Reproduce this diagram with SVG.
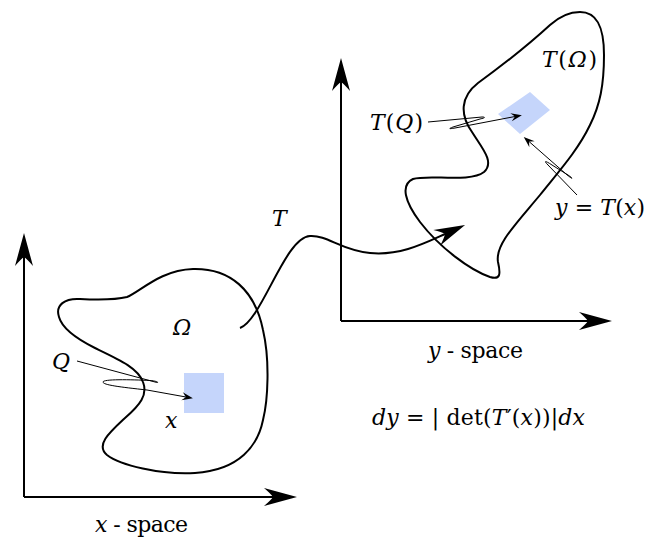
<svg xmlns="http://www.w3.org/2000/svg" width="647" height="538" viewBox="0 0 647 538">
<style>
.ln{fill:none;stroke:#000;stroke-width:2;stroke-linejoin:round}
.th{fill:none;stroke:#000;stroke-width:1}
.blue{fill:#c5d5fb;stroke:none}
text{font-family:'DejaVu Serif',serif;font-size:22px;fill:#000}
.i{font-style:italic}
</style>
<defs>
<marker id="big" markerUnits="userSpaceOnUse" markerWidth="40" markerHeight="24" viewBox="-36 -12 40 24" refX="-24" refY="0" orient="auto">
<path d="M0,0 L-33,-9 Q-26,-3 -24,0 Q-26,3 -33,9 Z" fill="#000"/>
</marker>
<marker id="tarr" markerUnits="userSpaceOnUse" markerWidth="36" markerHeight="24" viewBox="-34 -12 36 24" refX="-22" refY="0" orient="auto">
<path d="M0,0 L-31,-8.5 Q-24,-3 -22,0 Q-24,3 -31,8.5 Z" fill="#000"/>
</marker>
<marker id="sm" markerUnits="userSpaceOnUse" markerWidth="14" markerHeight="10" viewBox="-12 -5 14 10" refX="-7" refY="0" orient="auto">
<path d="M0,0 L-11,-4 Q-8,-1 -7,0 Q-8,1 -11,4 Z" fill="#000"/>
</marker>
</defs>

<g id="x-axes">
<path class="ln" d="M24,497 L24,257" marker-end="url(#big)"/>
<path class="ln" d="M24,497 L273,497" marker-end="url(#big)"/>
<text x="95" y="532" textLength="93"><tspan class="i">x</tspan> - space</text>
</g>

<g id="y-axes">
<path class="ln" d="M341,321 L341,82" marker-end="url(#big)"/>
<path class="ln" d="M341,321 L588,321" marker-end="url(#big)"/>
<text x="428" y="358" textLength="95"><tspan class="i">y</tspan> - space</text>
</g>

<g id="omega">
<rect class="blue" x="184" y="373" width="40" height="40"/>
<path class="ln" d="M59,317 C55,305 65,298 80,299 C100,300 115,300 127,297 C140,292 160,270 193,269 C230,268 255,290 263,330 C270,360 268,400 263,420 C258,445 240,470 195,473 C160,475 120,465 107,455 C95,445 110,432 125,418 C140,405 148,395 143,382 C138,368 120,360 95,348 C75,338 62,328 59,317 Z"/>
<text class="i" x="173" y="335">Ω</text>
<text class="i" x="52" y="369">Q</text>
<text class="i" x="165" y="428">x</text>
</g>

<g id="t-omega">
<polygon class="blue" points="530,92 550,110 520,134 498,114"/>
<path class="ln" d="M580,12 C596,12 604,25 604,55 C604,85 600,105 590,125 C578,150 560,170 540,195 C515,225 495,245 498,262 C501,275 500,280 490,277 C470,270 440,248 420,222 C405,202 400,185 413,179 C428,174 470,183 484,172 C495,162 482,148 472,132 C460,115 460,97 478,83 C500,67 525,48 550,25 C560,16 570,12 580,12 Z"/>
<text x="542" y="67" textLength="55"><tspan class="i">T</tspan>(<tspan class="i">Ω</tspan>)</text>
<text x="370" y="130" textLength="53"><tspan class="i">T</tspan>(<tspan class="i">Q</tspan>)</text>
<text x="555" y="215" textLength="90"><tspan class="i">y</tspan> = <tspan class="i">T</tspan>(<tspan class="i">x</tspan>)</text>
</g>

<g id="formula">
<text x="372" y="425" textLength="213"><tspan class="i">dy</tspan> = | det(<tspan class="i">T</tspan>′(<tspan class="i">x</tspan>))|<tspan class="i">dx</tspan></text>
</g>

<g id="connectors">
<path class="ln" d="M240,328 C262,320 285,237 310,236 C328,235 340,250 370,253 C400,256 425,243 445,234" marker-end="url(#tarr)"/>
<text class="i" x="272" y="226">T</text>
<path class="th" d="M77,361 L155,382 C160,383.5 158,381 150,380.5 C130,379.5 103,379 103,382 C103,385 120,387 147,390 L186,397" marker-end="url(#sm)"/>
<path class="th" d="M428,122 L482,117 C486,117 485,118 480,119 L453,127 C448,129 449,129 455,128 L515,116.5" marker-end="url(#sm)"/>
<path class="th" d="M577,195 L548,165 C543,160 546,161 552,165 L568,175 C574,179 573,180 566,174 L529,141.5" marker-end="url(#sm)"/>
</g>
</svg>
